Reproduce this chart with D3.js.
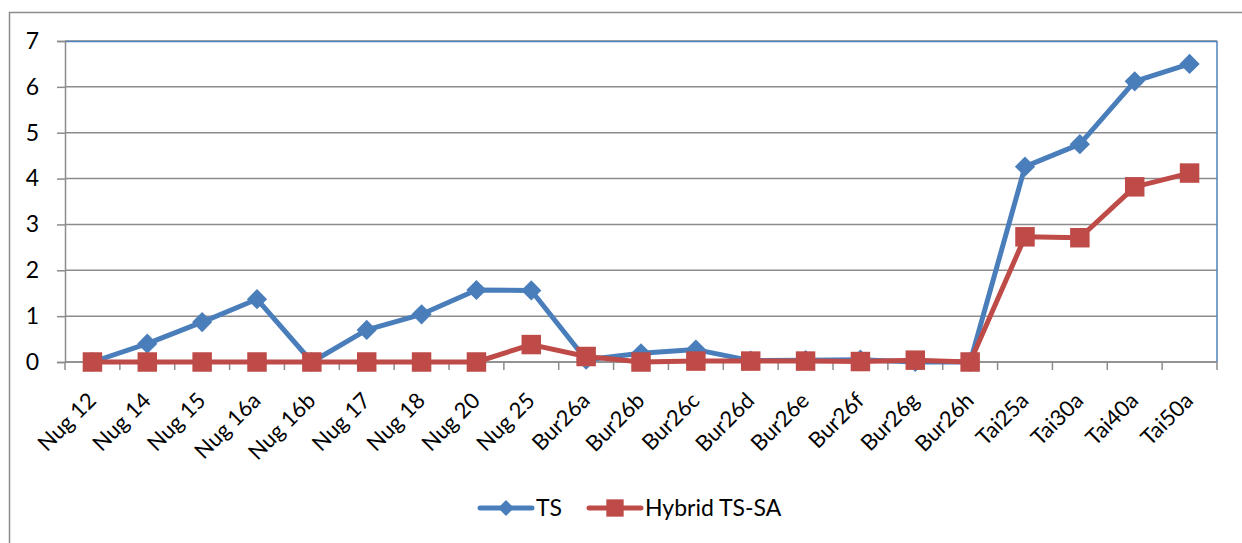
<!DOCTYPE html>
<html>
<head>
<meta charset="utf-8">
<script src="https://cdn.jsdelivr.net/npm/d3@7"></script>
<style>
  body { margin: 0; background: #fff; }
  text { font-family: Lato, "Open Sans", sans-serif; fill: #000; }
</style>
</head>
<body>
<div id="chart"></div>
<script>
var categories = ["Nug 12", "Nug 14", "Nug 15", "Nug 16a", "Nug 16b", "Nug 17", "Nug 18", "Nug 20", "Nug 25",
  "Bur26a", "Bur26b", "Bur26c", "Bur26d", "Bur26e", "Bur26f", "Bur26g", "Bur26h",
  "Tai25a", "Tai30a", "Tai40a", "Tai50a"];
var tsValues = [0, 0.4, 0.87, 1.37, 0, 0.7, 1.04, 1.57, 1.56,
  0.05, 0.19, 0.27, 0.03, 0.04, 0.05, 0, 0,
  4.26, 4.75, 6.12, 6.5];
var hybridValues = [0, 0, 0, 0, 0, 0, 0, 0, 0.38,
  0.12, 0, 0.02, 0.02, 0.02, 0.01, 0.04, 0,
  2.73, 2.71, 3.82, 4.12];
var yTicks = [0, 1, 2, 3, 4, 5, 6, 7];
var seriesNames = ["TS", "Hybrid TS-SA"];

var svgWidth = 1242, svgHeight = 543;
var margin = { top: 41, right: 25, bottom: 181, left: 65 };
var width = svgWidth - margin.left - margin.right;
var height = svgHeight - margin.top - margin.bottom;

var blue = "#4A7EBB", red = "#BE4B48";

var svg = d3.select("#chart").append("svg")
  .attr("width", svgWidth)
  .attr("height", svgHeight);

// outer chart frame
svg.append("rect")
  .attr("x", 9.5).attr("y", 12.5)
  .attr("width", svgWidth).attr("height", svgHeight)
  .attr("fill", "none").attr("stroke", "#8c8c8c").attr("stroke-width", 1.5);

var g = svg.append("g").attr("transform", `translate(${margin.left},${margin.top})`);

var x = d3.scaleBand().domain(categories).range([0, width]);
var y = d3.scaleLinear().domain([0, 7]).range([height, 0]);

// gridlines
g.selectAll(".grid").data(yTicks).enter().append("line")
  .attr("x1", 0).attr("x2", width)
  .attr("y1", d => y(d)).attr("y2", d => y(d))
  .attr("stroke", "#8c8c8c").attr("stroke-width", 1.5);

// plot area border (top + right)
g.append("path")
  .attr("d", `M0,0.5H${width}V${height}`)
  .attr("fill", "none").attr("stroke", "#4F81BD").attr("stroke-width", 1.5);

// y axis
var yAxis = g.append("g")
  .call(d3.axisLeft(y).tickValues(yTicks).tickSize(8).tickPadding(18).tickFormat(d3.format("d")));
yAxis.select(".domain").attr("stroke", "#8c8c8c").attr("stroke-width", 1.5);
yAxis.selectAll(".tick line").attr("stroke", "#8c8c8c").attr("stroke-width", 1.5);
yAxis.selectAll("text").style("font-size", "23px");

// x axis: ticks at category boundaries
var xg = g.append("g").attr("transform", `translate(0,${height})`);
xg.append("line").attr("x1", 0).attr("x2", width)
  .attr("stroke", "#8c8c8c").attr("stroke-width", 1.5);
xg.selectAll(".xtick").data(d3.range(categories.length + 1)).enter().append("line")
  .attr("x1", i => i * x.bandwidth()).attr("x2", i => i * x.bandwidth())
  .attr("y1", 0).attr("y2", 8)
  .attr("stroke", "#8c8c8c").attr("stroke-width", 1.5);
xg.selectAll(".xlabel").data(categories).enter().append("text")
  .attr("transform", d => `translate(${x(d) + x.bandwidth() / 2 + 5},${40}) rotate(-45)`)
  .attr("text-anchor", "end")
  .style("font-size", "22px")
  .text(d => d);

var cx = d => x(d) + x.bandwidth() / 2;
var line = d3.line().x((d, i) => cx(categories[i])).y(d => y(d));

var diamond = d3.symbol().type(d3.symbolDiamond2).size(260);
var square = d3.symbol().type(d3.symbolSquare).size(380);

g.append("path").datum(tsValues).attr("d", line)
  .attr("fill", "none").attr("stroke", blue).attr("stroke-width", 5).attr("stroke-linejoin", "round");
g.selectAll(".ts").data(tsValues).enter().append("path")
  .attr("d", diamond)
  .attr("transform", (d, i) => `translate(${cx(categories[i])},${y(d)})`)
  .attr("fill", blue);

g.append("path").datum(hybridValues).attr("d", line)
  .attr("fill", "none").attr("stroke", red).attr("stroke-width", 5).attr("stroke-linejoin", "round");
g.selectAll(".hy").data(hybridValues).enter().append("path")
  .attr("d", square)
  .attr("transform", (d, i) => `translate(${cx(categories[i])},${y(d)})`)
  .attr("fill", red);

// legend
var legend = svg.append("g").attr("transform", "translate(478,508)");
var legendItems = [
  { name: seriesNames[0], color: blue, symbol: d3.symbol().type(d3.symbolDiamond2).size(160), x: 0 },
  { name: seriesNames[1], color: red, symbol: d3.symbol().type(d3.symbolSquare).size(300), x: 109 }
];
legendItems.forEach(function(it) {
  var lg = legend.append("g").attr("transform", `translate(${it.x},0)`);
  lg.append("line").attr("x1", 2).attr("x2", 54)
    .attr("stroke", it.color).attr("stroke-width", 5).attr("stroke-linecap", "round");
  lg.append("path").attr("d", it.symbol).attr("transform", "translate(28,0)").attr("fill", it.color);
  lg.append("text").attr("x", 58).attr("dy", "0.36em").style("font-size", "23px").text(it.name);
});
</script>
</body>
</html>
